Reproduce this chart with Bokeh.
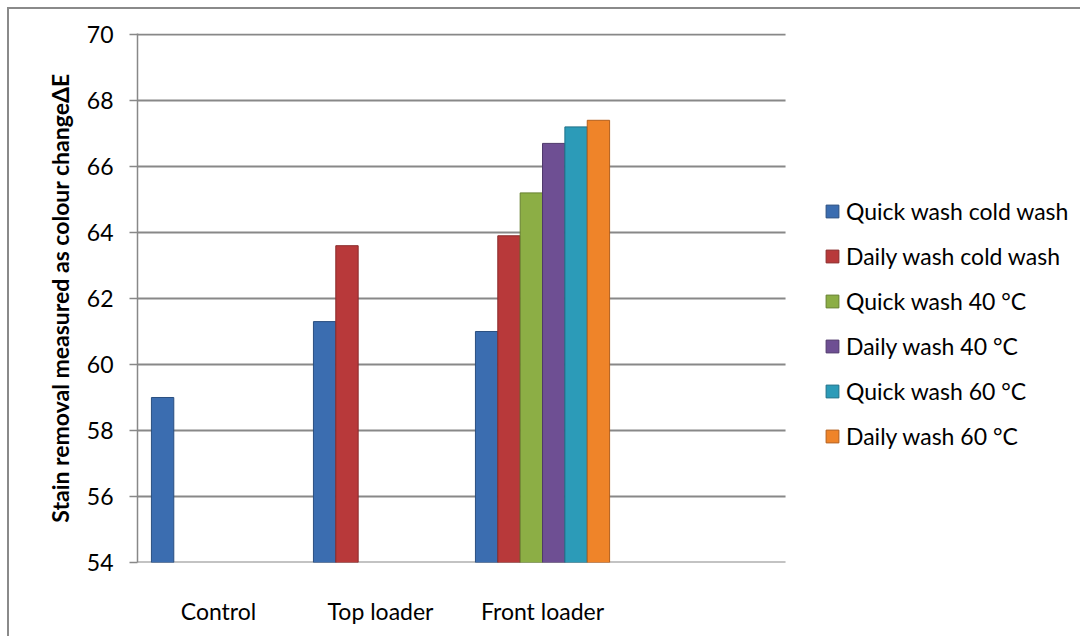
from bokeh.plotting import figure
from bokeh.models import Range1d, FixedTicker, Legend, LegendItem
from bokeh.transform import dodge
from bokeh.embed import file_html
from bokeh.resources import INLINE

categories = ["Control", "Top loader", "Front loader"]
series = ["Quick wash cold wash", "Daily wash cold wash", "Quick wash 40 °C",
          "Daily wash 40 °C", "Quick wash 60 °C", "Daily wash 60 °C"]
quick_cold = [59.0, 61.3, 61.0]
daily_cold = [None, 63.6, 63.9]
quick_40 = [None, None, 65.2]
daily_40 = [None, None, 66.7]
quick_60 = [None, None, 67.2]
daily_60 = [None, None, 67.4]
values = [quick_cold, daily_cold, quick_40, daily_40, quick_60, daily_60]
y_ticks = [54, 56, 58, 60, 62, 64, 66, 68, 70]
n_slots = 4  # the category axis has one empty slot after "Front loader"

colors = ["#3b6db0", "#b8393a", "#8cae45", "#6e4f93", "#2c9bb8", "#ef8429"]
edges = ["#2a4f80", "#8a2a2a", "#66802f", "#4f386b", "#1f7088", "#b35f1c"]

FONT = "Lato"

# x: category index; the frame also holds the legend area to the right
p = figure(x_range=Range1d(-0.5, 5.333), y_range=Range1d(54, 70.03),
           width=1073, height=629,
           min_border_left=128, min_border_right=0,
           min_border_top=24, min_border_bottom=76,
           output_backend="svg", toolbar_location=None)
p.margin = (7, 0, 0, 7)
p.styles = {"border-left": "2px solid #8a8a8a", "border-top": "2px solid #8a8a8a"}
p.outline_line_color = None
p.background_fill_color = "white"
p.border_fill_color = "white"

# horizontal gridlines spanning only the category slots
p.segment(x0=-0.5, x1=n_slots - 0.5, y0=y_ticks, y1=y_ticks,
          line_color="#888888", line_width=2)

bw = 0.138
n = len(series)
items = []
for i, (name, vals) in enumerate(zip(series, values)):
    idx = [k for k, v in enumerate(vals) if v is not None]
    vs = [v for v in vals if v is not None]
    off = (i - (n - 1) / 2) * bw
    r = p.vbar(x=dodge("idx", off), top="val", bottom=54, width=bw,
               source=dict(idx=idx, val=vs),
               fill_color=colors[i], line_color=edges[i], line_width=1)
    items.append(LegendItem(label=name, renderers=[r]))

p.xgrid.grid_line_color = None
p.ygrid.grid_line_color = None

p.yaxis.ticker = FixedTicker(ticks=y_ticks)
p.yaxis.minor_tick_line_color = None
p.yaxis.major_tick_out = 8
p.yaxis.major_tick_in = 0
p.yaxis.major_tick_line_color = "#888888"
p.yaxis.major_tick_line_width = 1.5
p.yaxis.axis_line_color = "#888888"
p.yaxis.axis_line_width = 1.5
p.yaxis.major_label_standoff = 16
p.yaxis.major_label_text_font = FONT
p.yaxis.major_label_text_font_size = "23px"
p.yaxis.major_label_text_color = "black"
p.yaxis.axis_label = "Stain removal measured as colour changeΔE"
p.yaxis.axis_label_text_font = FONT
p.yaxis.axis_label_text_font_style = "bold"
p.yaxis.axis_label_text_font_size = "23px"
p.yaxis.axis_label_text_color = "black"
p.yaxis.axis_label_standoff = 10

p.xaxis.ticker = FixedTicker(ticks=list(range(len(categories))))
p.xaxis.major_label_overrides = {k: c for k, c in enumerate(categories)}
p.xaxis.major_tick_line_color = None
p.xaxis.minor_tick_line_color = None
p.xaxis.axis_line_color = None
p.xaxis.major_label_standoff = 28
p.xaxis.major_label_text_font = FONT
p.xaxis.major_label_text_font_size = "23px"
p.xaxis.major_label_text_color = "black"

lg = Legend(items=items, location=(687, 112))
lg.padding = 0
lg.margin = 0
lg.border_line_color = None
lg.background_fill_alpha = 0
lg.label_text_font = FONT
lg.label_text_font_size = "23px"
lg.label_text_color = "black"
lg.glyph_width = 16
lg.glyph_height = 16
lg.label_standoff = 6
lg.spacing = 17
p.add_layout(lg, "center")

open("out.html", "w").write(file_html(p, INLINE))
